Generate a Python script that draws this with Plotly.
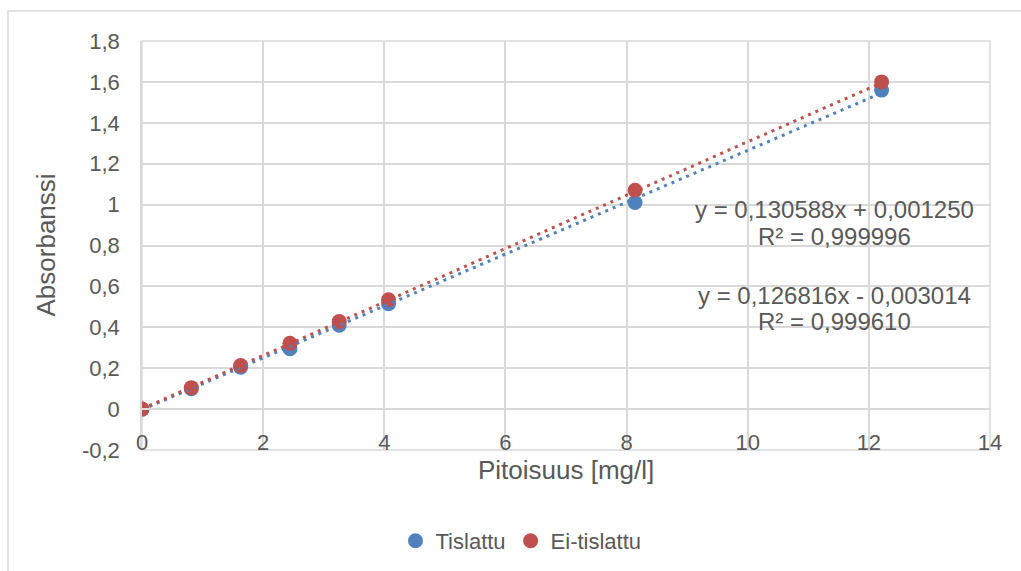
import plotly.graph_objects as go

# ---- data ----
concentration = [0, 0.814, 1.628, 2.442, 3.256, 4.07, 8.14, 12.21]
tislattu = [0, 0.10, 0.205, 0.295, 0.41, 0.515, 1.01, 1.56]
ei_tislattu = [0, 0.105, 0.213, 0.322, 0.428, 0.535, 1.07, 1.60]

# trendline coefficients as printed on the chart
red_slope, red_icpt, red_r2 = 0.130588, 0.001250, "0,999996"
blue_slope, blue_icpt, blue_r2 = 0.126816, -0.003014, "0,999610"

x_ticks = [0, 2, 4, 6, 8, 10, 12, 14]
y_ticks = [-0.2, 0, 0.2, 0.4, 0.6, 0.8, 1.0, 1.2, 1.4, 1.6, 1.8]
y_tick_text = ["-0,2", "0", "0,2", "0,4", "0,6", "0,8", "1", "1,2", "1,4", "1,6", "1,8"]

BLUE = "#4F81BD"
RED = "#C0504D"
TXT = "#595959"
GRID = "#D9D9D9"
FONT = "Liberation Sans, Arial, sans-serif"

W, H = 1021, 571
L, R, T, B = 142, 990, 41, 450  # plot area in pixels
pw, ph = R - L, B - T


def px_x(p):
    return (p - L) / pw


def px_y(p):
    return (B - p) / ph


fig = go.Figure()

fig.add_trace(go.Scatter(x=concentration, y=tislattu, mode="markers", name="Tislattu",
                         marker=dict(color=BLUE, size=15)))
fig.add_trace(go.Scatter(x=concentration, y=ei_tislattu, mode="markers", name="Ei-tislattu",
                         marker=dict(color=RED, size=15)))

xe = [0, max(concentration)]
fig.add_trace(go.Scatter(x=xe, y=[blue_slope * v + blue_icpt for v in xe], mode="lines",
                         showlegend=False, hoverinfo="skip",
                         line=dict(color=BLUE, width=3, dash="3px,5px")))
fig.add_trace(go.Scatter(x=xe, y=[red_slope * v + red_icpt for v in xe], mode="lines",
                         showlegend=False, hoverinfo="skip",
                         line=dict(color=RED, width=3, dash="3px,5px")))

fig.update_layout(
    width=W, height=H,
    margin=dict(l=L, r=W - R, t=T, b=H - B),
    paper_bgcolor="white", plot_bgcolor="white",
    font=dict(family=FONT, color=TXT, size=22),
    xaxis=dict(range=[0, 14], tickvals=x_ticks, showgrid=True, gridcolor=GRID, gridwidth=1.5,
               zeroline=False, showline=True, linecolor=GRID, linewidth=1.5,
               anchor="free", position=px_y(409),
               ticks="outside", ticklen=14, tickcolor="rgba(0,0,0,0)",
               tickfont=dict(size=22, color=TXT)),
    yaxis=dict(range=[-0.2, 1.8], tickvals=y_ticks, ticktext=y_tick_text, showgrid=True,
               gridcolor=GRID, gridwidth=1.5, zeroline=False, showline=True, linecolor=GRID,
               linewidth=1.5, ticks="outside", ticklen=16, tickcolor="rgba(0,0,0,0)",
               tickfont=dict(size=22, color=TXT)),
    legend=dict(orientation="h", xref="container", yref="container",
                x=521 / W, y=1 - 541 / H, xanchor="center", yanchor="middle",
                font=dict(size=22, color=TXT), itemsizing="trace"),
    showlegend=True,
)

# plot area frame and outer chart frame
fig.add_shape(type="rect", xref="paper", yref="paper", x0=0, x1=1, y0=0, y1=1,
              line=dict(color=GRID, width=1.5), layer="below")
fig.add_shape(type="rect", xref="paper", yref="paper", x0=px_x(8), x1=px_x(1040),
              y0=px_y(600), y1=px_y(11), line=dict(color=GRID, width=1.5), layer="below")

# axis titles
fig.add_annotation(text="Pitoisuus [mg/l]", xref="paper", yref="paper", x=0.5, y=px_y(470),
                   xanchor="center", yanchor="middle", showarrow=False,
                   font=dict(size=26, color=TXT))
fig.add_annotation(text="Absorbanssi", xref="paper", yref="paper", x=px_x(45), y=0.5,
                   xanchor="center", yanchor="middle", textangle=-90, showarrow=False,
                   font=dict(size=26, color=TXT))


def fmt(v):
    return f"{abs(v):.6f}".replace(".", ",")


eqs = [
    (f"y = {fmt(red_slope)}x + {fmt(red_icpt)}", 210),
    (f"R² = {red_r2}", 236),
    (f"y = {fmt(blue_slope)}x - {fmt(blue_icpt)}", 295),
    (f"R² = {blue_r2}", 321),
]
for txt, ypx in eqs:
    fig.add_annotation(text=txt, xref="paper", yref="paper", x=px_x(834), y=px_y(ypx),
                       xanchor="center", yanchor="middle", showarrow=False,
                       font=dict(size=24, color=TXT))

fig.write_html("out.html")
